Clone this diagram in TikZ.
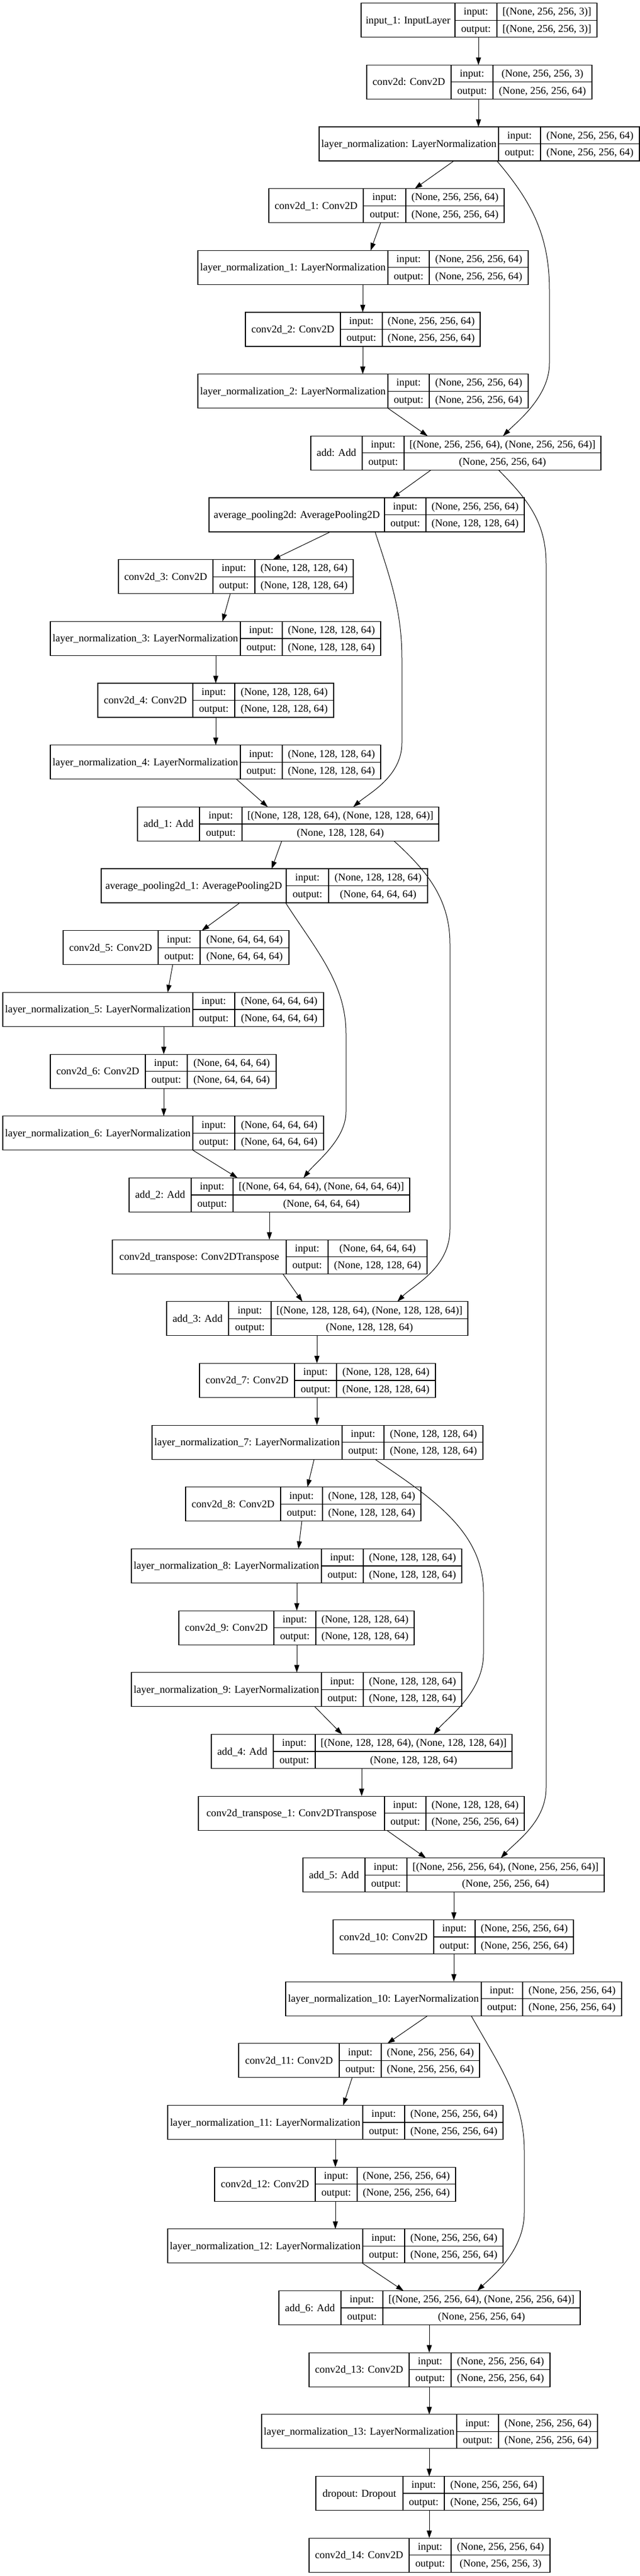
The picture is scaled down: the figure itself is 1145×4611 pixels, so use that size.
\documentclass[tikz,border=0pt]{standalone}
\usepackage{fontspec}
\setmainfont{Liberation Serif}
\usetikzlibrary{arrows.meta}
\tikzset{
  lbox/.style={draw=black, line width=1.2pt, outer sep=0pt, inner sep=0pt, minimum height=61pt, fill=white},
  lline/.style={draw=black, line width=1.2pt},
  txt/.style={anchor=base, inner sep=0pt, outer sep=0pt, font=\fontsize{18.67}{22}\selectfont},
  arr/.style={draw=black, line width=1pt, -{Triangle[length=13.5pt,width=9pt]}}
}
\newcommand\lyr[9]{%
  \pgfmathsetmacro\lyrtop{5.7+110.67*#6}%
  \node[lbox, minimum width={(#5-#2)*1pt}, anchor=north west] (#1) at (#2,\lyrtop) {};
  \draw[lline] (#3,\lyrtop) -- (#3,\lyrtop+61);
  \draw[lline] (#4,\lyrtop) -- (#4,\lyrtop+61);
  \draw[lline] (#3,\lyrtop+30.5) -- (#5,\lyrtop+30.5);
  \node[txt] (#1-l) at ({(#2+#3)/2},\lyrtop+36.5) {#7};
  \node[txt] (#1-a) at ({(#3+#4)/2},\lyrtop+21.25) {input:};
  \node[txt] (#1-b) at ({(#3+#4)/2},\lyrtop+51.75) {output:};
  \node[txt] (#1-c) at ({(#4+#5)/2},\lyrtop+21.25) {#8};
  \node[txt] (#1-d) at ({(#4+#5)/2},\lyrtop+51.75) {#9};
}
\begin{document}
\begin{tikzpicture}[x=1pt,y=-1pt]
\useasboundingbox[fill=white] (0,0) rectangle (1145,4611);
\def\sA{(None, 256, 256, 64)}
\def\sB{(None, 128, 128, 64)}
\def\sC{(None, 64, 64, 64)}
\lyr{in1}{646}{814}{889}{1068}{0}{input\_1: InputLayer}{[(None, 256, 256, 3)]}{[(None, 256, 256, 3)]}
\lyr{c0}{656}{807}{882}{1059}{1}{conv2d: Conv2D}{(None, 256, 256, 3)}{\sA}
\lyr{n0}{571}{892}{967}{1144}{2}{layer\_normalization: LayerNormalization}{\sA}{\sA}
\lyr{c1}{481}{650}{726}{902}{3}{conv2d\_1: Conv2D}{\sA}{\sA}
\lyr{n1}{354}{694}{768}{945}{4}{layer\_normalization\_1: LayerNormalization}{\sA}{\sA}
\lyr{c2}{439}{609}{684}{859}{5}{conv2d\_2: Conv2D}{\sA}{\sA}
\lyr{n2}{354}{694}{768}{945}{6}{layer\_normalization\_2: LayerNormalization}{\sA}{\sA}
\lyr{a0}{556}{648}{723}{1075}{7}{add: Add}{[(None, 256, 256, 64), (None, 256, 256, 64)]}{\sA}
\lyr{p0}{374}{688}{762}{938}{8}{average\_pooling2d: AveragePooling2D}{\sA}{\sB}
\lyr{c3}{212}{381}{456}{632}{9}{conv2d\_3: Conv2D}{\sB}{\sB}
\lyr{n3}{90}{430}{505}{681}{10}{layer\_normalization\_3: LayerNormalization}{\sB}{\sB}
\lyr{c4}{175}{345}{420}{597}{11}{conv2d\_4: Conv2D}{\sB}{\sB}
\lyr{n4}{90}{430}{505}{681}{12}{layer\_normalization\_4: LayerNormalization}{\sB}{\sB}
\lyr{a1}{246}{357}{433}{785}{13}{add\_1: Add}{[(None, 128, 128, 64), (None, 128, 128, 64)]}{\sB}
\lyr{p1}{181}{512}{588}{765}{14}{average\_pooling2d\_1: AveragePooling2D}{\sB}{\sC}
\lyr{c5}{113}{283}{358}{517}{15}{conv2d\_5: Conv2D}{\sC}{\sC}
\lyr{n5}{5}{345}{420}{579}{16}{layer\_normalization\_5: LayerNormalization}{\sC}{\sC}
\lyr{c6}{90}{260}{335}{494}{17}{conv2d\_6: Conv2D}{\sC}{\sC}
\lyr{n6}{5}{345}{420}{579}{18}{layer\_normalization\_6: LayerNormalization}{\sC}{\sC}
\lyr{a2}{231}{342}{417}{733}{19}{add\_2: Add}{[(None, 64, 64, 64), (None, 64, 64, 64)]}{\sC}
\lyr{t0}{201}{512}{587}{764}{20}{conv2d\_transpose: Conv2DTranspose}{\sC}{\sB}
\lyr{a3}{298}{409}{485}{837}{21}{add\_3: Add}{[(None, 128, 128, 64), (None, 128, 128, 64)]}{\sB}
\lyr{c7}{357}{527}{602}{779}{22}{conv2d\_7: Conv2D}{\sB}{\sB}
\lyr{n7}{272}{612}{687}{864}{23}{layer\_normalization\_7: LayerNormalization}{\sB}{\sB}
\lyr{c8}{332}{502}{577}{753}{24}{conv2d\_8: Conv2D}{\sB}{\sB}
\lyr{n8}{235}{575}{650}{826}{25}{layer\_normalization\_8: LayerNormalization}{\sB}{\sB}
\lyr{c9}{320}{490}{565}{741}{26}{conv2d\_9: Conv2D}{\sB}{\sB}
\lyr{n9}{235}{575}{650}{826}{27}{layer\_normalization\_9: LayerNormalization}{\sB}{\sB}
\lyr{a4}{378}{489}{564}{916}{28}{add\_4: Add}{[(None, 128, 128, 64), (None, 128, 128, 64)]}{\sB}
\lyr{t1}{355}{688}{762}{938}{29}{conv2d\_transpose\_1: Conv2DTranspose}{\sB}{\sA}
\lyr{a5}{542}{653}{728}{1081}{30}{add\_5: Add}{[(None, 256, 256, 64), (None, 256, 256, 64)]}{\sA}
\lyr{c10}{596}{776}{850}{1026}{31}{conv2d\_10: Conv2D}{\sA}{\sA}
\lyr{n10}{511}{861}{935}{1112}{32}{layer\_normalization\_10: LayerNormalization}{\sA}{\sA}
\lyr{c11}{427}{607}{682}{858}{33}{conv2d\_11: Conv2D}{\sA}{\sA}
\lyr{n11}{300}{649}{724}{900}{34}{layer\_normalization\_11: LayerNormalization}{\sA}{\sA}
\lyr{c12}{384}{564}{639}{815}{35}{conv2d\_12: Conv2D}{\sA}{\sA}
\lyr{n12}{300}{649}{724}{900}{36}{layer\_normalization\_12: LayerNormalization}{\sA}{\sA}
\lyr{a6}{499}{610}{685}{1038}{37}{add\_6: Add}{[(None, 256, 256, 64), (None, 256, 256, 64)]}{\sA}
\lyr{c13}{553}{732}{807}{984}{38}{conv2d\_13: Conv2D}{\sA}{\sA}
\lyr{n13}{468}{817}{892}{1069}{39}{layer\_normalization\_13: LayerNormalization}{\sA}{\sA}
\lyr{d0}{565}{721}{795}{972}{40}{dropout: Dropout}{\sA}{\sA}
\lyr{c14}{553}{732}{807}{984}{41}{conv2d\_14: Conv2D}{\sA}{(None, 256, 256, 3)}
% connectors
\draw[arr] (in1.south -| 856,0) -- (c0.north -| 856,0);
\draw[arr] (c0.south -| 856,0) -- (n0.north -| 856,0);
\draw[arr] (n0.south -| 812,0) -- (c1.north -| 742,0);
\draw[arr] (n0.south -| 889,0) .. controls (950,360) and (983,420) .. (983,520) -- (983,650) .. controls (983,710) and (925,755) .. (a0.north -| 900,0);
\draw[arr] (c1.south -| 681,0) -- (n1.north -| 663,0);
\draw[arr] (n1.south -| 649,0) -- (c2.north -| 649,0);
\draw[arr] (c2.south -| 649,0) -- (n2.north -| 649,0);
\draw[arr] (n2.south -| 694,0) -- (a0.north -| 765,0);
\draw[arr] (a0.south -| 771,0) -- (p0.north -| 702,0);
\draw[arr] (a0.south -| 892,0) .. controls (945,895) and (977,935) .. (977,1010) -- (977,3200) .. controls (977,3260) and (925,3295) .. (a5.north -| 896,0);
\draw[arr] (p0.south -| 591,0) -- (c3.north -| 488,0);
\draw[arr] (p0.south -| 671,0) .. controls (700,1040) and (719,1095) .. (719,1180) -- (719,1330) .. controls (719,1390) and (660,1420) .. (a1.north -| 632,0);
\draw[arr] (c3.south -| 412,0) -- (n3.north -| 398,0);
\draw[arr] (n3.south -| 386,0) -- (c4.north -| 386,0);
\draw[arr] (c4.south -| 386,0) -- (n4.north -| 386,0);
\draw[arr] (n4.south -| 423,0) -- (a1.north -| 479,0);
\draw[arr] (a1.south -| 504,0) -- (p1.north -| 486,0);
\draw[arr] (a1.south -| 705,0) .. controls (765,1560) and (805,1610) .. (805,1690) -- (805,2200) .. controls (805,2270) and (740,2300) .. (a3.north -| 711,0);
\draw[arr] (p1.south -| 429,0) -- (c5.north -| 361,0);
\draw[arr] (p1.south -| 511,0) .. controls (565,1700) and (619,1760) .. (619,1850) -- (619,1990) .. controls (619,2040) and (565,2080) .. (a2.north -| 543,0);
\draw[arr] (c5.south -| 309,0) -- (n5.north -| 300,0);
\draw[arr] (n5.south -| 293,0) -- (c6.north -| 293,0);
\draw[arr] (c6.south -| 293,0) -- (n6.north -| 293,0);
\draw[arr] (n6.south -| 345,0) -- (a2.north -| 425,0);
\draw[arr] (a2.south -| 482,0) -- (t0.north -| 482,0);
\draw[arr] (t0.south -| 506,0) -- (a3.north -| 541,0);
\draw[arr] (a3.south -| 567,0) -- (c7.north -| 567,0);
\draw[arr] (c7.south -| 567,0) -- (n7.north -| 567,0);
\draw[arr] (n7.south -| 562,0) -- (c8.north -| 550,0);
\draw[arr] (n7.south -| 671,0) .. controls (770,2680) and (865,2740) .. (865,2850) -- (865,2960) .. controls (865,3030) and (800,3075) .. (a4.north -| 776,0);
\draw[arr] (c8.south -| 540,0) -- (n8.north -| 534,0);
\draw[arr] (n8.south -| 531,0) -- (c9.north -| 531,0);
\draw[arr] (c9.south -| 531,0) -- (n9.north -| 531,0);
\draw[arr] (n9.south -| 563,0) -- (a4.north -| 612,0);
\draw[arr] (a4.south -| 647,0) -- (t1.north -| 647,0);
\draw[arr] (t1.south -| 692,0) -- (a5.north -| 762,0);
\draw[arr] (a5.south -| 812,0) -- (c10.north -| 812,0);
\draw[arr] (c10.south -| 812,0) -- (n10.north -| 812,0);
\draw[arr] (n10.south -| 765,0) -- (c11.north -| 693,0);
\draw[arr] (n10.south -| 843,0) .. controls (895,3700) and (938,3760) .. (938,3850) -- (938,3960) .. controls (938,4030) and (880,4075) .. (a6.north -| 854,0);
\draw[arr] (c11.south -| 630,0) -- (n11.north -| 614,0);
\draw[arr] (n11.south -| 600,0) -- (c12.north -| 600,0);
\draw[arr] (c12.south -| 600,0) -- (n12.north -| 600,0);
\draw[arr] (n12.south -| 648,0) -- (a6.north -| 722,0);
\draw[arr] (a6.south -| 768,0) -- (c13.north -| 768,0);
\draw[arr] (c13.south -| 768,0) -- (n13.north -| 768,0);
\draw[arr] (n13.south -| 768,0) -- (d0.north -| 768,0);
\draw[arr] (d0.south -| 768,0) -- (c14.north -| 768,0);
\end{tikzpicture}
\end{document}
